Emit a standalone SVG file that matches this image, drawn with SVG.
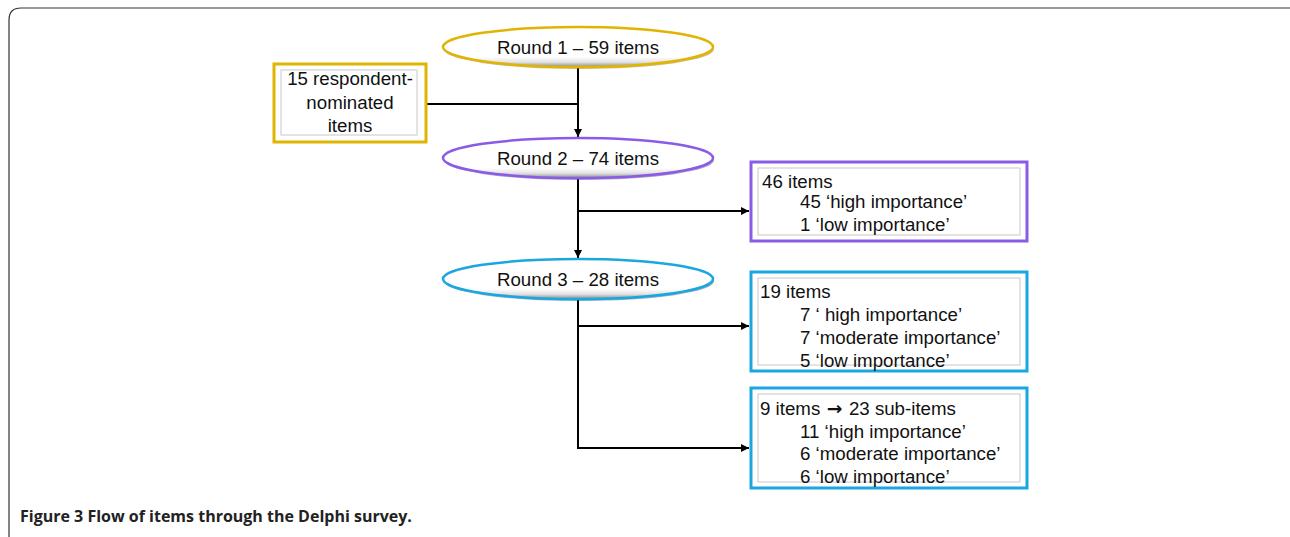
<svg xmlns="http://www.w3.org/2000/svg" width="1290" height="537" viewBox="0 0 1290 537">
<defs>
<linearGradient id="eg" x1="0" y1="0" x2="0" y2="1">
<stop offset="0" stop-color="#ffffff"/>
<stop offset="0.75" stop-color="#ffffff"/>
<stop offset="0.88" stop-color="#e2e2e2"/>
<stop offset="1" stop-color="#8a8a8a"/>
</linearGradient>
<marker id="ar" viewBox="0 0 10 10" refX="10" refY="5" markerWidth="8" markerHeight="8" markerUnits="userSpaceOnUse" orient="auto">
<path d="M0,0 L10,5 L0,10 z" fill="#000"/>
</marker>
</defs>
<style>
.t{font-family:"Liberation Sans",Arial,sans-serif;font-size:18.7px;fill:#111}
.cap{font-family:"Open Sans","Noto Sans",sans-serif;font-size:16px;font-weight:bold;fill:#222}
.ln{fill:none;stroke:#000;stroke-width:2}
.inner{fill:#fff;stroke:#c8c8c8;stroke-width:1}
.arw{font-family:"DejaVu Sans",sans-serif;font-weight:bold}
</style>
<rect width="1290" height="537" fill="#fff"/>
<path d="M9,545 L9,20 Q9,8 21,8 L1300,8" fill="none" stroke="#333" stroke-width="1.2"/>
<g id="connectors">
<path class="ln" d="M427,104 H578"/>
<path class="ln" d="M578,68 V137" marker-end="url(#ar)"/>
<path class="ln" d="M578,179 V258" marker-end="url(#ar)"/>
<path class="ln" d="M578,211 H749" marker-end="url(#ar)"/>
<path class="ln" d="M578,299 V448 H749" marker-end="url(#ar)"/>
<path class="ln" d="M578,326 H749" marker-end="url(#ar)"/>
</g>
<g id="round1">
<ellipse cx="579" cy="49" rx="135" ry="20" fill="#8a6d00" opacity="0.45"/>
<ellipse cx="578" cy="47" rx="135" ry="20" fill="url(#eg)" stroke="#e0b400" stroke-width="2.5"/>
<text class="t" x="578" y="54" text-anchor="middle">Round 1 – 59 items</text>
</g>
<g id="respondent">
<rect x="274" y="64" width="152" height="78" fill="#fff" stroke="#e0b400" stroke-width="3"/>
<rect class="inner" x="281" y="70" width="136" height="65"/>
<text class="t" x="350" y="85" text-anchor="middle">15 respondent-</text>
<text class="t" x="350" y="109" text-anchor="middle">nominated</text>
<text class="t" x="350" y="132" text-anchor="middle">items</text>
</g>
<g id="round2">
<ellipse cx="579" cy="160" rx="135" ry="20" fill="#4a2a90" opacity="0.45"/>
<ellipse cx="578" cy="158" rx="135" ry="20" fill="url(#eg)" stroke="#8a5ce6" stroke-width="2.5"/>
<text class="t" x="578" y="165" text-anchor="middle">Round 2 – 74 items</text>
</g>
<g id="box46">
<rect x="751" y="162" width="276" height="79" fill="#fff" stroke="#8a5ce6" stroke-width="3"/>
<rect class="inner" x="758" y="168" width="262" height="67"/>
<text class="t" x="762" y="188">46 items</text>
<text class="t" x="800" y="208">45 ‘high importance’</text>
<text class="t" x="800" y="231">1 ‘low importance’</text>
</g>
<g id="round3">
<ellipse cx="579" cy="281" rx="135" ry="20" fill="#0a4a70" opacity="0.45"/>
<ellipse cx="578" cy="279" rx="135" ry="20" fill="url(#eg)" stroke="#1aa7e0" stroke-width="2.5"/>
<text class="t" x="578" y="286" text-anchor="middle">Round 3 – 28 items</text>
</g>
<g id="box19">
<rect x="751" y="272" width="276" height="99" fill="#fff" stroke="#1aa7e0" stroke-width="3"/>
<rect class="inner" x="758" y="278" width="262" height="87"/>
<text class="t" x="760" y="298">19 items</text>
<text class="t" x="800" y="321">7 ‘ high importance’</text>
<text class="t" x="800" y="344">7 ‘moderate importance’</text>
<text class="t" x="800" y="367">5 ‘low importance’</text>
</g>
<g id="box9">
<rect x="751" y="388" width="276" height="100" fill="#fff" stroke="#1aa7e0" stroke-width="3"/>
<rect class="inner" x="758" y="394" width="262" height="88"/>
<text class="t" x="760" y="415">9 items<tspan class="arw"> → </tspan>23 sub-items</text>
<text class="t" x="800" y="438">11 ‘high importance’</text>
<text class="t" x="800" y="460">6 ‘moderate importance’</text>
<text class="t" x="800" y="483">6 ‘low importance’</text>
</g>
<text class="cap" x="20" y="522">Figure 3 Flow of items through the Delphi survey.</text>
</svg>
